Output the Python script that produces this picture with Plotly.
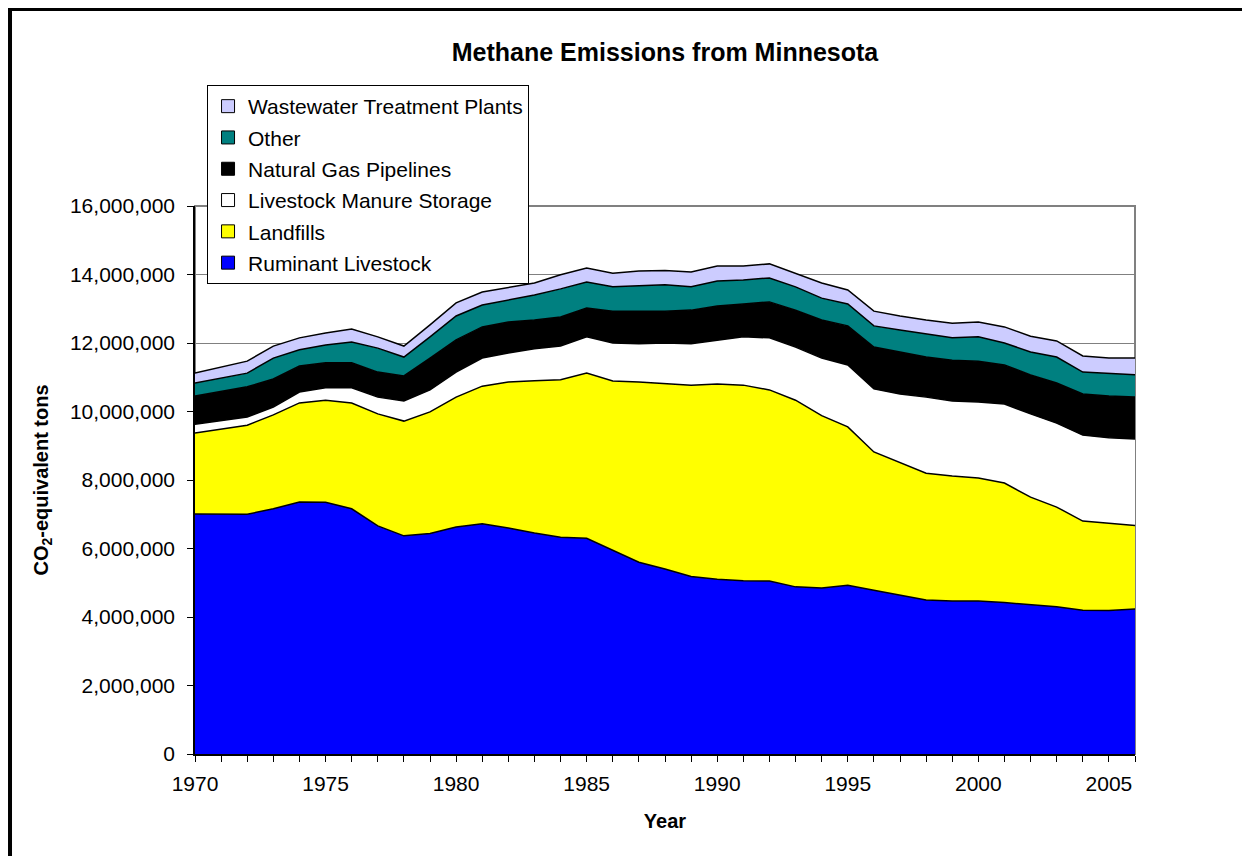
import plotly.graph_objects as go

years = list(range(1970, 2007))

# million tons CO2-equivalent (per source, stacked bottom to top)
ruminant_livestock = [7.01, 7.00, 7.00, 7.16, 7.36, 7.35, 7.16, 6.66, 6.37, 6.44,
                      6.63, 6.72, 6.60, 6.45, 6.33, 6.30, 5.95, 5.60, 5.40, 5.18,
                      5.10, 5.06, 5.05, 4.88, 4.85, 4.93, 4.78, 4.63, 4.50, 4.47,
                      4.47, 4.42, 4.35, 4.30, 4.20, 4.19, 4.23]
landfills = [2.36, 2.48, 2.60, 2.74, 2.89, 2.98, 3.09, 3.27, 3.35, 3.55,
             3.79, 4.02, 4.26, 4.45, 4.60, 4.82, 4.94, 5.26, 5.42, 5.59,
             5.70, 5.71, 5.58, 5.45, 5.03, 4.62, 4.04, 3.87, 3.70, 3.65,
             3.59, 3.49, 3.15, 2.91, 2.60, 2.55, 2.44]
manure_storage = [0.26, 0.26, 0.24, 0.23, 0.32, 0.36, 0.44, 0.49, 0.59, 0.64,
                  0.73, 0.82, 0.85, 0.93, 0.98, 1.06, 1.11, 1.12, 1.18, 1.21,
                  1.29, 1.41, 1.52, 1.55, 1.68, 1.81, 1.84, 2.01, 2.22, 2.19,
                  2.22, 2.31, 2.43, 2.45, 2.51, 2.49, 2.53]
gas_pipelines = [0.82, 0.84, 0.88, 0.82, 0.76, 0.73, 0.73, 0.73, 0.73, 0.93,
                 0.94, 0.91, 0.90, 0.84, 0.85, 0.84, 0.93, 0.95, 0.93, 0.98,
                 0.99, 0.96, 1.05, 1.08, 1.11, 1.14, 1.22, 1.23, 1.17, 1.19,
                 1.19, 1.14, 1.14, 1.17, 1.20, 1.22, 1.22]
other = [0.38, 0.39, 0.40, 0.61, 0.47, 0.52, 0.61, 0.70, 0.55, 0.62,
         0.70, 0.64, 0.65, 0.73, 0.82, 0.76, 0.71, 0.74, 0.77, 0.68,
         0.73, 0.70, 0.70, 0.68, 0.64, 0.64, 0.62, 0.64, 0.67, 0.65,
         0.71, 0.64, 0.67, 0.76, 0.64, 0.65, 0.65]
wastewater = [0.29, 0.33, 0.35, 0.35, 0.35, 0.35, 0.38, 0.33, 0.32, 0.35,
              0.38, 0.38, 0.35, 0.35, 0.41, 0.41, 0.40, 0.43, 0.42, 0.43,
              0.44, 0.41, 0.41, 0.40, 0.44, 0.41, 0.43, 0.41, 0.41, 0.43,
              0.43, 0.47, 0.46, 0.47, 0.47, 0.46, 0.49]

series = [
    ("Ruminant Livestock", ruminant_livestock, "#0000FF"),
    ("Landfills", landfills, "#FFFF00"),
    ("Livestock Manure Storage", manure_storage, "#FFFFFF"),
    ("Natural Gas Pipelines", gas_pipelines, "#000000"),
    ("Other", other, "#008080"),
    ("Wastewater Treatment Plants", wastewater, "#CCCCFF"),
]

FONT = "Liberation Sans, Arial, sans-serif"

fig = go.Figure()

for name, vals, color in series:
    fig.add_trace(
        go.Scatter(
            x=years,
            y=[v * 1e6 for v in vals],
            mode="lines",
            stackgroup="one",
            fillcolor=color,
            line=dict(color="black", width=1.5),
            name=name,
            showlegend=False
        )
    )

# square swatches for the legend, top of the stack listed first
for name, vals, color in series[::-1]:
    fig.add_trace(
        go.Scatter(
            x=[None],
            y=[None],
            mode="markers",
            marker=dict(symbol="square", size=13, color=color,
                        line=dict(color="black", width=1)),
            name=name,
            legendgroup=name
        )
    )

# the page adds an 8px body margin, so the figure is 8px smaller
fig.update_layout(
    width=1242,
    height=848,
    margin=dict(l=187, r=115, t=198, b=102),
    paper_bgcolor="white",
    plot_bgcolor="white",
    font=dict(family=FONT, size=21, color="black"),
    title=dict(
        text="<b>Methane Emissions from Minnesota</b>",
        x=0.5,
        xref="paper",
        y=1 - 44 / 848,
        yanchor="middle",
        font=dict(size=25)
    ),
    legend=dict(
        x=0.0128,
        y=1.2208,
        xanchor="left",
        yanchor="top",
        traceorder="grouped",
        tracegroupgap=1,
        bgcolor="white",
        bordercolor="black",
        borderwidth=1,
        font=dict(size=21)
    ),
    xaxis=dict(
        range=[1970, 2006],
        tickmode="linear",
        tick0=1970,
        dtick=5,
        ticks="outside",
        ticklen=6,
        tickcolor="black",
        showline=True,
        linecolor="black",
        linewidth=1.5,
        showgrid=False,
        zeroline=False,
        minor=dict(dtick=1, ticks="outside", ticklen=6, tickcolor="black", showgrid=False),
        ticklabelstandoff=4,
        title=dict(text="<b>Year</b>", font=dict(size=20), standoff=20)
    ),
    yaxis=dict(
        range=[0, 16000000],
        tickmode="linear",
        dtick=2000000,
        tickformat=",d",
        ticks="outside",
        ticklen=6,
        tickcolor="black",
        showline=True,
        linecolor="black",
        linewidth=1.5,
        showgrid=True,
        gridcolor="#808080",
        gridwidth=1,
        zeroline=False,
        ticklabelstandoff=8,
        title=dict(text="<b>CO<sub>2</sub>-equivalent tons</b>", font=dict(size=20), standoff=16)
    ),
    shapes=[
        dict(type="rect", xref="paper", yref="paper", x0=0, x1=1, y0=0, y1=1,
             line=dict(color="#808080", width=2), layer="below"),
        dict(type="line", xref="paper", yref="paper", x0=-0.1968, x1=-0.1968,
             y0=1.3595, y1=-0.3, line=dict(color="black", width=4)),
        dict(type="line", xref="paper", yref="paper", x0=-0.199, x1=1.2,
             y0=1.3595, y1=1.3595, line=dict(color="black", width=4)),
    ]
)

fig.write_html("out.html")
